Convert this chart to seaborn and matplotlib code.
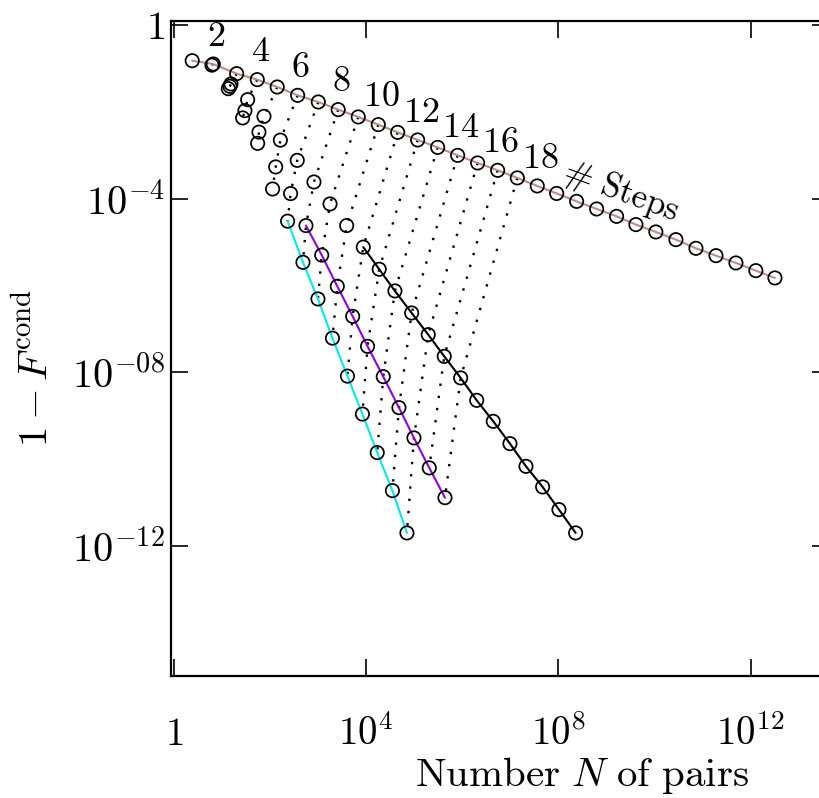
#!/usr/bin/env python3
"""Infidelity 1 - F^cond against number of pairs N, one curve per level."""

import matplotlib

matplotlib.use("Agg")

import matplotlib.pyplot as plt
import pandas as pd
import seaborn as sns


OUTPUT = "out.png"

# top level (brown line), steps 1..30
steps_top = list(range(1, 31))
n_top = [2.40, 6.58, 20.2, 54.2, 141, 375, 1.01e3, 2.62e3, 6.85e3, 1.79e4,
         4.53e4, 1.18e5, 3.08e5, 8.02e5, 2.09e6, 5.46e6, 1.40e7, 3.64e7,
         9.23e7, 2.40e8, 6.27e8, 1.63e9, 4.12e9, 1.07e10, 2.80e10, 7.31e10,
         1.91e11, 4.97e11, 1.29e12, 3.22e12]
inf_top = [0.150, 0.126, 0.0755, 0.0550, 0.0372, 0.0239, 0.0168, 0.0112,
           7.59e-3, 5.05e-3, 3.35e-3, 2.24e-3, 1.51e-3, 9.89e-4, 6.61e-4,
           4.47e-4, 2.99e-4, 1.95e-4, 1.31e-4, 8.61e-5, 5.75e-5, 3.89e-5,
           2.51e-5, 1.70e-5, 1.13e-5, 7.13e-6, 4.83e-6, 3.28e-6, 2.18e-6,
           1.48e-6]

# second level (black line), steps 2..24
steps_black = list(range(2, 25))
n_black = [6.18, 15.4, 34.2, 74.7, 164, 368, 820, 1.77e3, 3.93e3, 8.71e3,
           1.87e4, 3.97e4, 8.85e4, 1.96e5, 4.22e5, 9.27e5, 2.00e6, 4.42e6,
           9.84e6, 2.12e7, 4.71e7, 1.03e8, 2.29e8]
inf_black = [0.1186, 0.0437, 0.0190, 7.83e-3, 2.22e-3, 7.59e-4, 2.41e-4,
             7.51e-5, 2.38e-5, 7.59e-6, 2.35e-6, 7.43e-7, 2.31e-7, 7.31e-8,
             2.31e-8, 7.35e-9, 2.24e-9, 7.35e-10, 2.25e-10, 6.75e-11,
             2.26e-11, 6.79e-12, 1.97e-12]

# third level (purple line), steps 3..17
steps_purple = list(range(3, 18))
n_purple = [14.6, 30.0, 58.7, 131, 268, 559, 1.19e3, 2.51e3, 5.24e3, 1.07e4,
            2.27e4, 4.82e4, 9.89e4, 2.06e5, 4.37e5]
inf_purple = [0.0385, 0.0106, 3.39e-3, 5.35e-4, 1.30e-4, 2.38e-5, 4.97e-6,
              9.48e-7, 1.93e-7, 3.93e-8, 7.87e-9, 1.52e-9, 3.05e-10,
              6.21e-11, 1.28e-11]

# fourth level (cyan line), steps 3..15
steps_cyan = list(range(3, 16))
n_cyan = [13.5, 26.9, 55.2, 113, 232, 484, 993, 1.99e3, 4.08e3, 8.37e3,
          1.70e4, 3.52e4, 7.06e4]
inf_cyan = [0.0340, 7.20e-3, 1.87e-3, 1.66e-4, 3.01e-5, 3.39e-6, 4.86e-7,
            6.07e-8, 8.09e-9, 1.08e-9, 1.40e-10, 1.86e-11, 1.97e-12]

# first step drawn with a solid line on each level
line_start = {"top": 1, "black": 11, "purple": 8, "cyan": 7}
line_color = {"top": "#bc8c8c", "black": "black", "purple": "#9400d3",
              "cyan": "#00e8f0"}
last_dotted_step = 17

step_labels = [2, 4, 6, 8, 10, 12, 14, 16, 18]
steps_text_at = 22

x_ticks = [1, 1e4, 1e8, 1e12]
x_tick_labels = [r"$1$", r"$10^{4}$", r"$10^{8}$", r"$10^{12}$"]
y_ticks = [1, 1e-4, 1e-8, 1e-12]
y_tick_labels = [r"$1$", r"$10^{-4}$", r"$10^{-08}$", r"$10^{-12}$"]


def build_frame() -> pd.DataFrame:
    parts = [
        ("top", steps_top, n_top, inf_top),
        ("black", steps_black, n_black, inf_black),
        ("purple", steps_purple, n_purple, inf_purple),
        ("cyan", steps_cyan, n_cyan, inf_cyan),
    ]
    frames = []
    for order, (name, steps, n, inf) in enumerate(parts):
        frames.append(pd.DataFrame({"steps": steps, "N": n, "infid": inf,
                                    "level": name, "order": order}))
    return pd.concat(frames, ignore_index=True)


def main() -> None:
    sns.set_theme(style="ticks")
    plt.rcParams["mathtext.fontset"] = "cm"
    plt.rcParams["font.family"] = ["cmr10", "DejaVu Serif"]
    plt.rcParams["axes.unicode_minus"] = False
    for key in ("text.color", "axes.labelcolor", "xtick.color", "ytick.color",
                "axes.edgecolor"):
        plt.rcParams[key] = "black"

    df = build_frame()

    fig = plt.figure(figsize=(8.2, 7.98), dpi=100)
    ax = fig.add_axes([0.208, 0.153, 0.803, 0.821])
    ax.set_xscale("log")
    ax.set_yscale("log")

    # dotted lines join the levels of the same number of steps
    dotted = df[df["steps"] <= last_dotted_step].sort_values(["steps", "order"])
    sns.lineplot(data=dotted, x="N", y="infid", units="steps", estimator=None,
                 sort=False, color="black", lw=1.7,
                 linestyle=(0, (1.0, 4.2)), ax=ax)

    for level, start in line_start.items():
        sub = df[(df["level"] == level) & (df["steps"] >= start)]
        sns.lineplot(data=sub, x="N", y="infid", estimator=None, sort=False,
                     color=line_color[level], lw=1.5, ax=ax)

    sns.scatterplot(data=df, x="N", y="infid", marker="o", s=92,
                    facecolors="none", edgecolor="black", linewidth=1.25,
                    legend=False, zorder=3, ax=ax)

    for k in step_labels:
        ax.annotate(rf"${k}$", xy=(n_top[k - 1], inf_top[k - 1]),
                    xytext=(2.2, 19.5), textcoords="offset points",
                    ha="center", va="center", fontsize=26)
    ax.annotate(r"$\#\ \mathrm{Steps}$",
                xy=(n_top[steps_text_at - 1], inf_top[steps_text_at - 1]),
                xytext=(3, 18), textcoords="offset points", rotation=-20,
                ha="center", va="center", fontsize=25)

    ax.set_xlim(0.85, 4.3e13)
    ax.set_ylim(1e-15, 1.25)
    ax.minorticks_off()
    ax.set_xticks(x_ticks, x_tick_labels)
    ax.set_yticks(y_ticks, y_tick_labels)
    ax.tick_params(which="major", direction="in", length=12, width=1.2,
                   top=True, right=True, labelsize=28)
    ax.tick_params(axis="x", pad=50)
    ax.tick_params(axis="y", pad=4, labelsize=29)
    for label in ax.get_xticklabels():
        label.set_va("baseline")
    for label in ax.get_yticklabels():
        label.set_va("center_baseline")

    for spine in ax.spines.values():
        spine.set_linewidth(1.6)

    ax.set_xlabel(r"$\mathrm{Number}\ N\ \mathrm{of\ pairs}$", fontsize=29.5,
                  va="center")
    ax.xaxis.set_label_coords(0.624, -0.152)
    ax.set_ylabel(r"$1-F^{\mathrm{cond}}$", fontsize=29.5, va="center")
    ax.yaxis.set_label_coords(-0.205, 0.47)

    fig.savefig(OUTPUT, dpi=100)
    plt.close(fig)


if __name__ == "__main__":
    main()
